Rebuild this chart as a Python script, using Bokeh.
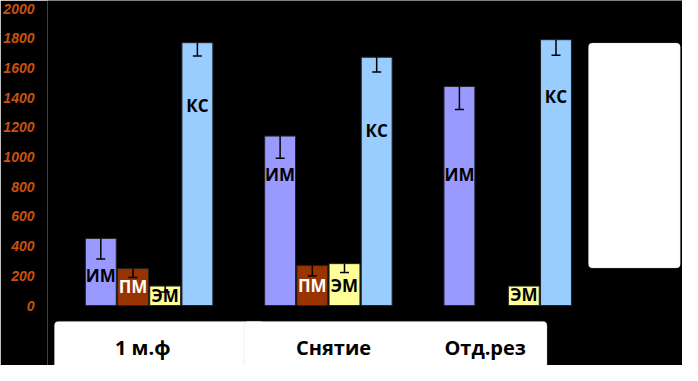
from bokeh.plotting import figure
from bokeh.models import ColumnDataSource, Range1d, FixedTicker, Whisker, TeeHead, BoxAnnotation
from bokeh.core.properties import value
from bokeh.embed import file_html
from bokeh.resources import INLINE

# ---- data ----
categories = ["1 м.ф", "Снятие", "Отд.рез"]
series = ["ИМ", "ПМ", "ЭМ", "КС"]
im_vals = [452, 1141, 1475]
pm_vals = [249, 269, 0]
em_vals = [131, 282, 131]
ks_vals = [1770, 1672, 1790]
im_err = [138, 150, 155]
pm_err = [60, 70, 0]
em_err = [40, 60, 0]
ks_err = [90, 100, 105]
y_ticks = [0, 200, 400, 600, 800, 1000, 1200, 1400, 1600, 1800, 2000]

# label anchor heights (annotation layout)
im_lab_y = [203, 885, 885]
pm_lab_y = [131, 138, None]
em_lab_y = [66, 138, 72]
ks_lab_y = [1344, 1180, 1410]

# ---- styles / layout ----
colors = {"ИМ": "#9999FF", "ПМ": "#993300", "ЭМ": "#FFFF99", "КС": "#99CCFF"}
text_colors = {"ИМ": "black", "ПМ": "white", "ЭМ": "black", "КС": "black"}
GROUP = 5.57
BAR_W = 0.96
cat_shift = [-0.2, 0.16, -0.7]

vals = {"ИМ": im_vals, "ПМ": pm_vals, "ЭМ": em_vals, "КС": ks_vals}
errs = {"ИМ": im_err, "ПМ": pm_err, "ЭМ": em_err, "КС": ks_err}
labs = {"ИМ": im_lab_y, "ПМ": pm_lab_y, "ЭМ": em_lab_y, "КС": ks_lab_y}

bx, btop, bcol = [], [], []
ex, elow, eup = [], [], []
lx, ly, lt, lc = [], [], [], []
for k, s in enumerate(series):
    for g in range(len(categories)):
        x = g * GROUP + k
        v = vals[s][g]
        if v <= 0:
            continue
        bx.append(x); btop.append(v); bcol.append(colors[s])
        if errs[s][g] > 0:
            ex.append(x); elow.append(v - errs[s][g]); eup.append(v)
        if labs[s][g] is not None:
            lx.append(x); ly.append(labs[s][g]); lt.append(s); lc.append(text_colors[s])

p = figure(width=682, height=365, output_backend="svg", toolbar_location=None,
           x_range=Range1d(-1.656, 18.07), y_range=Range1d(-404, 2054),
           x_axis_location=None, min_border_left=45, min_border_right=0,
           min_border_top=0, min_border_bottom=0)
p.background_fill_color = "black"
p.border_fill_color = "black"
p.outline_line_color = None
p.grid.visible = False

ax = p.yaxis[0]
ax.ticker = FixedTicker(ticks=y_ticks)
ax.axis_line_color = None
ax.major_tick_line_color = None
ax.minor_tick_line_color = None
ax.major_label_standoff = 7
ax.major_label_text_font = "Liberation Sans"
ax.major_label_text_font_style = "bold italic"
ax.major_label_text_font_size = "14px"
ax.major_label_text_color = "#C8520E"

# decorative boxes (category label panels and empty legend box)
group_left = [g * GROUP - BAR_W / 2 for g in range(len(categories))]
p.add_layout(BoxAnnotation(left=group_left[0] - 0.96, right=group_left[0] + 5.55,
                           top=-107, bottom=-450, fill_color="white", fill_alpha=1,
                           line_color="#CCCCCC", line_width=1, border_radius=4, level="underlay"))
p.add_layout(BoxAnnotation(left=group_left[1] - 0.65, right=group_left[2] + 3.2,
                           top=-107, bottom=-450, fill_color="white", fill_alpha=1,
                           line_color="#CCCCCC", line_width=1, border_radius=4, level="underlay"))
p.add_layout(BoxAnnotation(left=group_left[2] + 4.49, right=group_left[2] + 7.34,
                           top=1767, bottom=253, fill_color="white", fill_alpha=1,
                           line_color="#CCCCCC", line_width=1, border_radius=4, level="underlay"))

bars = ColumnDataSource(dict(x=bx, top=btop, color=bcol))
p.vbar(x="x", top="top", bottom=0, width=BAR_W, fill_color="color",
       line_color="#222222", line_width=1, source=bars)

esrc = ColumnDataSource(dict(x=ex, lower=elow, upper=eup))
w = Whisker(base="x", lower="lower", upper="upper", source=esrc, dimension="height",
            line_color="black", line_width=1.5, upper_head=None,
            lower_head=TeeHead(size=9, line_color="black", line_width=1.5), level="glyph")
p.add_layout(w)

lsrc = ColumnDataSource(dict(x=lx, y=ly, t=lt, c=lc))
tr = p.text(x="x", y="y", text="t", text_color="c", source=lsrc, text_align="center",
            text_baseline="middle", text_font=value("Open Sans"), text_font_style="bold",
            text_font_size="17px")
tr.level = "overlay"

cx = [g * GROUP + 1.5 + cat_shift[g] for g in range(len(categories))]
csrc = ColumnDataSource(dict(x=cx, y=[-283] * len(categories), t=categories))
cr = p.text(x="x", y="y", text="t", source=csrc, text_align="center", text_baseline="middle",
            text_font=value("Open Sans"), text_font_style="bold", text_font_size="20px",
            text_color="black")
cr.level = "overlay"

open("out.html", "w").write(file_html(p, INLINE))
